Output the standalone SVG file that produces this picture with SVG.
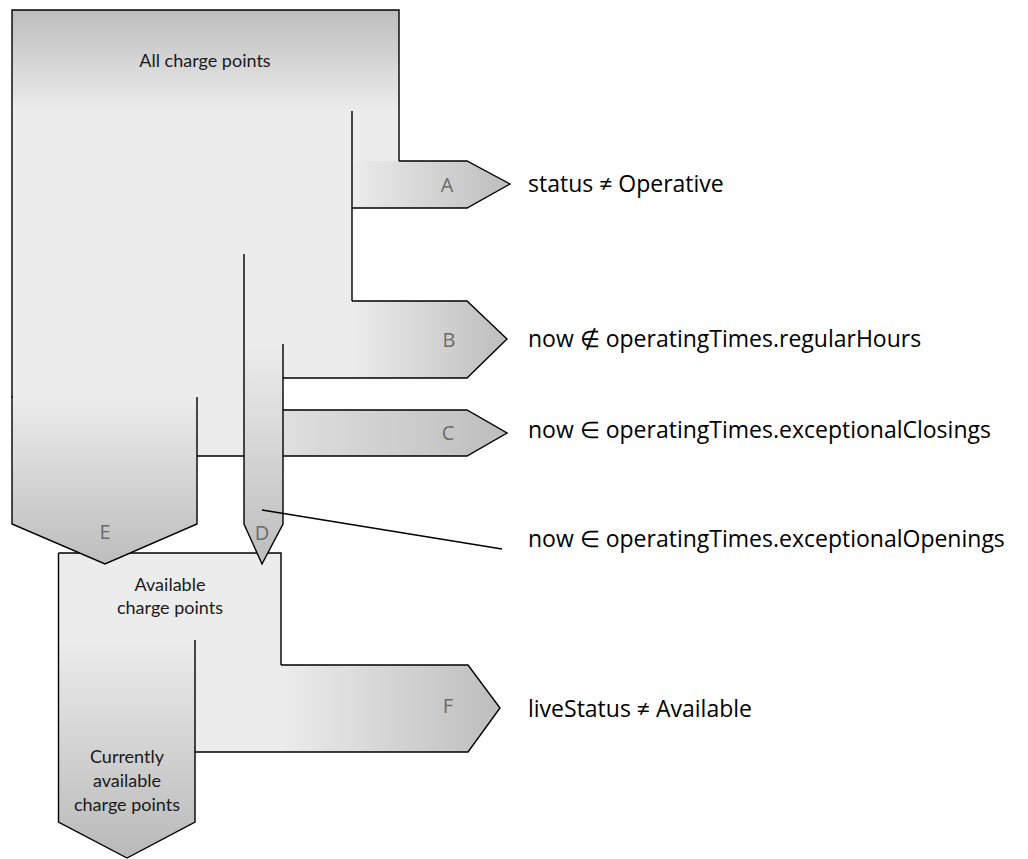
<svg xmlns="http://www.w3.org/2000/svg" width="1028" height="859" viewBox="0 0 1028 859">
<defs>
<linearGradient id="gTop" gradientUnits="userSpaceOnUse" x1="0" y1="10" x2="0" y2="111"><stop offset="0" stop-color="#bdbdbd"/><stop offset="1" stop-color="#ececec"/></linearGradient>
<linearGradient id="gA" gradientUnits="userSpaceOnUse" x1="352" y1="0" x2="510" y2="0"><stop offset="0" stop-color="#ececec"/><stop offset="1" stop-color="#bdbdbd"/></linearGradient>
<linearGradient id="gB" gradientUnits="userSpaceOnUse" x1="352" y1="0" x2="507" y2="0"><stop offset="0" stop-color="#ececec"/><stop offset="1" stop-color="#bdbdbd"/></linearGradient>
<linearGradient id="gC" gradientUnits="userSpaceOnUse" x1="197" y1="0" x2="507" y2="0"><stop offset="0" stop-color="#ececec"/><stop offset="1" stop-color="#bdbdbd"/></linearGradient>
<linearGradient id="gD" gradientUnits="userSpaceOnUse" x1="0" y1="344" x2="0" y2="564"><stop offset="0" stop-color="#ececec"/><stop offset="1" stop-color="#bdbdbd"/></linearGradient>
<linearGradient id="gE" gradientUnits="userSpaceOnUse" x1="0" y1="397" x2="0" y2="564"><stop offset="0" stop-color="#ececec"/><stop offset="1" stop-color="#bdbdbd"/></linearGradient>
<linearGradient id="gF" gradientUnits="userSpaceOnUse" x1="281" y1="0" x2="500" y2="0"><stop offset="0" stop-color="#ececec"/><stop offset="1" stop-color="#bdbdbd"/></linearGradient>
<linearGradient id="gCur" gradientUnits="userSpaceOnUse" x1="0" y1="640" x2="0" y2="858"><stop offset="0" stop-color="#ececec"/><stop offset="1" stop-color="#b9b9b9"/></linearGradient>
</defs>
<style>
.fl{fill:#ececec;stroke:none}
.ln{fill:none;stroke:#000;stroke-width:1.4;stroke-linejoin:miter}
.nl{font-family:Lato,"Open Sans",sans-serif;font-size:18px;fill:#1a1a1a;text-anchor:middle}
.let{font-family:"Open Sans",sans-serif;font-size:20px;fill:#6b6b6b;text-anchor:middle}
.cond{font-family:"Open Sans",sans-serif;font-size:23px;fill:#000}
</style>

<g id="node-available">
<polygon class="fl" points="58.5,553 281,553 281,752 195,752 195,640 58.5,640"/>
<path class="ln" d="M58.5,553 H281 V665"/>
<text class="nl" x="170" y="591">Available</text>
<text class="nl" x="170" y="614">charge points</text>
</g>

<g id="flow-F">
<polygon points="281,665 468,665 500,708 468,752 281,752" fill="url(#gF)"/>
<path class="ln" d="M281,665 H468 L500,708 L468,752 H195"/>
<text class="let" x="448" y="713">F</text>
</g>

<g id="node-currently">
<polygon points="58.5,640 195,640 195,822 127,858 58.5,822" fill="url(#gCur)"/>
<path class="ln" d="M58.5,553 V822 L127,858 L195,822 V640"/>
<text class="nl" x="127" y="763">Currently</text>
<text class="nl" x="127" y="787">available</text>
<text class="nl" x="127" y="811">charge points</text>
</g>

<g id="node-all">
<rect x="12" y="10" width="387" height="101" fill="url(#gTop)"/>
<polygon class="fl" points="12,110 399,110 399,208 352,208 352,378 244,378 244,456 197,456 197,397 12,397"/>
<path class="ln" d="M12,398 V10 H399 V161"/>
<text class="nl" x="205" y="67">All charge points</text>
</g>

<g id="flow-A">
<polygon points="352,161 467,161 510,184 467,208 352,208" fill="url(#gA)"/>
<path class="ln" d="M399,161 H467 L510,184 L467,208 H352 M352,111 V301"/>
<text class="let" x="447" y="192">A</text>
</g>

<g id="flow-B">
<polygon points="283,301 467,301 507,339 467,378 283,378" fill="url(#gB)"/>
<path class="ln" d="M352,301 H467 L507,339 L467,378 H283"/>
<text class="let" x="449" y="347">B</text>
</g>

<g id="flow-C">
<polygon points="244,410 467,410 507,433 467,456 244,456" fill="url(#gC)"/>
<path class="ln" d="M283,410 H467 L507,433 L467,456 H283 M244,456 H197"/>
<text class="let" x="448" y="440">C</text>
</g>

<g id="flow-E">
<polygon points="12,397 197,397 197,524 105,564 12,524" fill="url(#gE)"/>
<path class="ln" d="M12,396 V524 L105,564 L197,524 V397"/>
<text class="let" x="105" y="539">E</text>
</g>

<g id="flow-D">
<polygon points="244,344 283,344 283,524 262,564 244,524" fill="url(#gD)"/>
<path class="ln" d="M244,254 V524 L262,564 L283,524 V344"/>
<text class="let" x="262" y="540">D</text>
</g>

<g id="connectors">
<line class="ln" x1="262" y1="510" x2="502" y2="549"/>
</g>

<g id="conditions">
<text class="cond" x="528" y="192">status ≠ Operative</text>
<text class="cond" x="528" y="347">now ∉ operatingTimes.regularHours</text>
<text class="cond" x="528" y="438">now ∈ operatingTimes.exceptionalClosings</text>
<text class="cond" x="528" y="547">now ∈ operatingTimes.exceptionalOpenings</text>
<text class="cond" x="528" y="717">liveStatus ≠ Available</text>
</g>
</svg>
